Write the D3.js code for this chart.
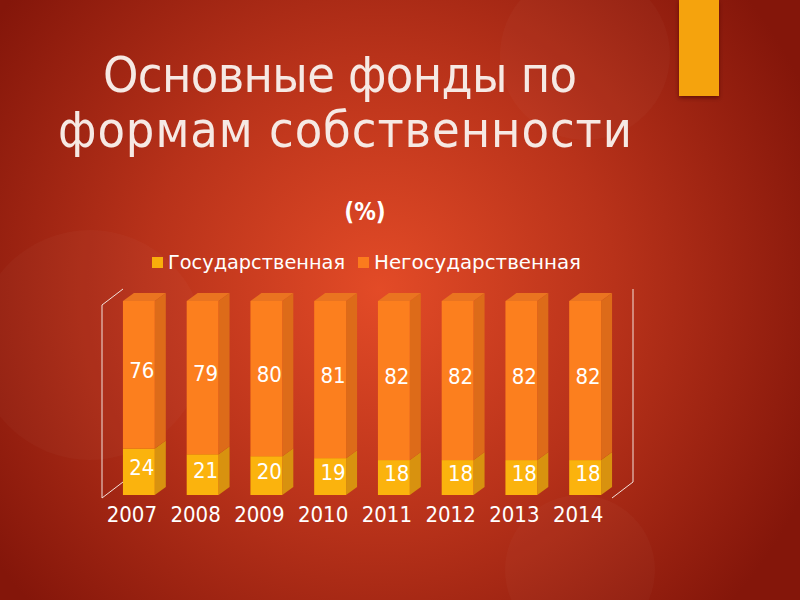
<!DOCTYPE html>
<html>
<head>
<meta charset="utf-8">
<script src="https://cdn.jsdelivr.net/npm/d3@7"></script>
<style>
  html, body { margin: 0; padding: 0; background: #8c1a0b; }
  svg { display: block; }
</style>
</head>
<body>
<div id="chart"></div>
<script>
// data
const years = ['2007', '2008', '2009', '2010', '2011', '2012', '2013', '2014'];
const stateShare = [24, 21, 20, 19, 18, 18, 18, 18];
const privateShare = [76, 79, 80, 81, 82, 82, 82, 82];
const seriesNames = ['Государственная', 'Негосударственная'];

const width = 800, height = 600;
const font = '"DejaVu Sans Condensed", "DejaVu Sans", sans-serif';
const fontWide = '"DejaVu Sans", sans-serif';

const svg = d3.select('#chart').append('svg')
  .attr('width', width)
  .attr('height', height);

const defs = svg.append('defs');
const bg = defs.append('radialGradient')
  .attr('id', 'bg')
  .attr('gradientUnits', 'userSpaceOnUse')
  .attr('cx', 380).attr('cy', 290).attr('r', 470);
bg.append('stop').attr('offset', '0%').attr('stop-color', '#e34b27');
bg.append('stop').attr('offset', '50%').attr('stop-color', '#b8321a');
bg.append('stop').attr('offset', '100%').attr('stop-color', '#84160a');

const shadow = defs.append('filter').attr('id', 'shadow')
  .attr('x', '-20%').attr('y', '-20%').attr('width', '140%').attr('height', '140%');
shadow.append('feDropShadow')
  .attr('dx', 0).attr('dy', 2).attr('stdDeviation', 2)
  .attr('flood-color', '#3a0500').attr('flood-opacity', 0.6);

svg.append('rect')
  .attr('width', width).attr('height', height)
  .attr('fill', 'url(#bg)');

// faint decorative circles
const circles = [[585, 55, 85], [90, 345, 115], [580, 570, 75]];
svg.selectAll('circle.deco')
  .data(circles)
  .enter().append('circle')
  .attr('class', 'deco')
  .attr('cx', d => d[0]).attr('cy', d => d[1]).attr('r', d => d[2])
  .attr('fill', '#ffffff').attr('opacity', 0.022);

// accent block top right
svg.append('rect')
  .attr('x', 679).attr('y', 0).attr('width', 40).attr('height', 96)
  .attr('fill', '#f5a30a')
  .attr('filter', 'url(#shadow)');

// title
const title = svg.append('text')
  .attr('fill', '#f6e9e4')
  .style('font-family', font)
  .style('font-size', '50px');
title.append('tspan').attr('x', 103).attr('y', 92)
  .attr('textLength', 474).attr('lengthAdjust', 'spacing')
  .text('Основные фонды по');
title.append('tspan').attr('x', 58).attr('y', 147)
  .attr('textLength', 574).attr('lengthAdjust', 'spacing')
  .text('формам собственности');

svg.append('text')
  .attr('x', 365).attr('y', 220)
  .attr('text-anchor', 'middle')
  .attr('fill', '#ffffff')
  .style('font-family', font)
  .style('font-size', '24px')
  .style('font-weight', 'bold')
  .text('(%)');

// legend
const legendColors = ['#f9ae0b', '#fb7b1d'];
const legendX = [152, 358];
const legendW = [177, 207];
const legend = svg.selectAll('g.legend')
  .data(seriesNames)
  .enter().append('g')
  .attr('class', 'legend')
  .attr('transform', (d, i) => `translate(${legendX[i]},257)`);
legend.append('rect')
  .attr('width', 11).attr('height', 11)
  .attr('fill', (d, i) => legendColors[i]);
legend.append('text')
  .attr('x', 16).attr('y', 12)
  .attr('fill', '#ffffff')
  .attr('textLength', (d, i) => legendW[i])
  .attr('lengthAdjust', 'spacingAndGlyphs')
  .style('font-family', fontWide)
  .style('font-size', '19px')
  .text(d => d);

// scales
const x = d3.scaleBand()
  .domain(years)
  .range([107, 617])
  .paddingInner(0.5)
  .paddingOuter(0.25);

const y = d3.scaleLinear()
  .domain([0, 100])
  .range([495, 301]);

const dx = 11, dy = -8;   // bar depth
const wx = 21, wy = -16;  // wall depth

// frame lines of the 3D box
const frame = svg.append('g')
  .attr('stroke', '#f3e2dc')
  .attr('stroke-width', 1)
  .attr('fill', 'none');
const x0 = 102, x1 = 612;
frame.append('line').attr('x1', x0).attr('y1', y(0) + 3).attr('x2', x0).attr('y2', y(100) + 4);
frame.append('line').attr('x1', x0).attr('y1', y(100) + 4).attr('x2', x0 + wx).attr('y2', y(100) + 4 + wy);
frame.append('line').attr('x1', x0).attr('y1', y(0) + 3).attr('x2', x0 + wx).attr('y2', y(0) + 3 + wy);
frame.append('line').attr('x1', x1 + wx).attr('y1', y(0) + 3 + wy).attr('x2', x1 + wx).attr('y2', y(100) + 4 + wy);
frame.append('line').attr('x1', x1 + wx).attr('y1', y(0) + 3 + wy).attr('x2', x1).attr('y2', y(0) + 3);

// stacked data
const rows = years.map((yr, i) => ({ year: yr, state: stateShare[i], priv: privateShare[i] }));
const stack = d3.stack().keys(['state', 'priv'])(rows);

const faceColors = [
  { front: '#fbb30d', side: '#d8920f', top: '#f3a70c' },
  { front: '#fc7f1e', side: '#dd6b19', top: '#ea7420' }
];

const bw = x.bandwidth();

stack.forEach((layer, si) => {
  const c = faceColors[si];
  const g = svg.append('g');
  layer.forEach(d => {
    const xl = x(d.data.year);
    const yt = y(d[1]), yb = y(d[0]);
    // side face
    g.append('path')
      .attr('d', `M${xl + bw},${yb} L${xl + bw + dx},${yb + dy} L${xl + bw + dx},${yt + dy} L${xl + bw},${yt} Z`)
      .attr('fill', c.side);
    // top face (only on the top segment)
    if (si === stack.length - 1) {
      g.append('path')
        .attr('d', `M${xl},${yt} L${xl + dx},${yt + dy} L${xl + bw + dx},${yt + dy} L${xl + bw},${yt} Z`)
        .attr('fill', c.top);
    }
    // front face
    g.append('rect')
      .attr('x', xl).attr('y', yt)
      .attr('width', bw).attr('height', yb - yt)
      .attr('fill', c.front);
    // value
    g.append('text')
      .attr('x', xl + bw / 2 + 3)
      .attr('y', (yt + yb) / 2 + 3)
      .attr('text-anchor', 'middle')
      .attr('fill', '#ffffff')
      .style('font-family', font)
      .style('font-size', '22px')
      .text(d[1] - d[0]);
  });
});

// year labels
svg.append('g')
  .selectAll('text')
  .data(years)
  .enter().append('text')
  .attr('x', d => x(d) + bw / 2 - 7)
  .attr('y', 522)
  .attr('text-anchor', 'middle')
  .attr('fill', '#ffffff')
  .style('font-family', font)
  .style('font-size', '22px')
  .text(d => d);
</script>
</body>
</html>
